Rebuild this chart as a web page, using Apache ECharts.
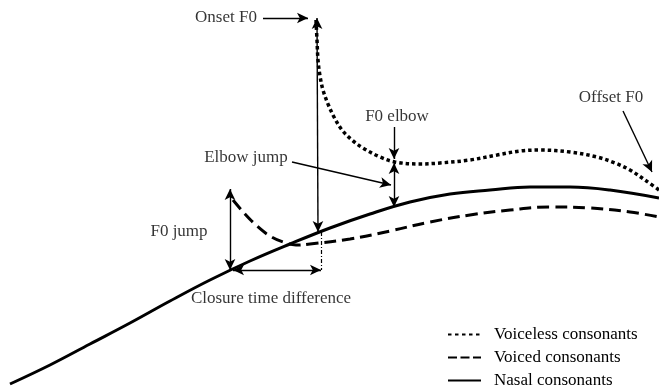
<!DOCTYPE html>
<html>
<head>
<meta charset="utf-8">
<script src="https://cdn.jsdelivr.net/npm/echarts@6/dist/echarts.min.js"></script>
<style>html,body{margin:0;padding:0;background:#fff}#c{width:659px;height:386px}</style>
</head>
<body>
<div id="c"></div>
<script>
// ---- Data (time units along x, F0 units along y) ----
const seriesNames = ['Voiceless consonants', 'Voiced consonants', 'Nasal consonants'];

const timeVoiceless = [316, 317, 318, 320, 323, 328, 334, 342, 352, 363, 380, 395, 420, 440, 470, 497, 520, 540, 570, 597, 615, 630, 645, 659];
const f0Voiceless   = [366, 346, 326, 310, 296, 282, 269, 256, 246, 238, 229, 224, 222, 223, 226, 231, 235, 236, 234, 229, 223, 216, 206, 196];

const timeVoiced = [233, 245, 257, 270, 283, 296, 310, 350, 390, 430, 470, 510, 550, 590, 630, 659];
const f0Voiced   = [186, 172, 160, 150, 144, 141, 142, 147, 155, 164, 171, 176, 179, 178, 174, 169];

const timeNasal = [10, 50, 90, 130, 170, 210, 250, 290, 330, 370, 410, 450, 490, 530, 570, 610, 659];
const f0Nasal   = [2, 21, 42, 63, 85, 106, 125, 142, 158, 172, 184, 192, 196, 199, 199, 196, 188];

// annotation arrows: start, end, head at start?, head at end?
const arrowFrom = [[263, 368], [318, 154], [233, 116], [230, 116], [292, 224], [394, 223], [394, 259], [623, 275]];
const arrowTo   = [[308, 368], [317, 368], [321, 116], [230, 197], [391, 201], [394, 179], [394, 227], [652, 214]];
const headStart = [false, true, true, true, false, true, false, false];
const headEnd   = [true, true, true, true, true, true, true, true];
// guide line (dash-dot) from onset down to closure
const guideFrom = [321, 154];
const guideTo   = [321, 116];

// annotation texts
const noteTexts = ['Onset F0', 'F0 elbow', 'Elbow jump', 'Offset F0', 'F0 jump', 'Closure time difference'];
const noteTime  = [226, 397, 246, 611, 179, 271];
const noteF0    = [368, 269, 228, 288, 154, 87];

// ---- Chart ----
const FONT = "'Liberation Serif', 'Times New Roman', serif";
const pairs = (xs, ys) => xs.map((x, i) => [x, ys[i]]);

const arrowData = arrowFrom.map((a, i) => [
  { coord: a, symbol: headStart[i] ? 'arrow' : 'none' },
  { coord: arrowTo[i], symbol: headEnd[i] ? 'arrow' : 'none' }
]);

const chart = echarts.init(document.getElementById('c'), null, { renderer: 'canvas' });
chart.setOption({
  animation: false,
  backgroundColor: '#fff',
  grid: { left: 0, right: 0, top: 0, bottom: 0 },
  xAxis: { type: 'value', min: 0, max: 659, show: false },
  yAxis: { type: 'value', min: 0, max: 386, show: false },
  legend: {
    orient: 'vertical',
    left: 447,
    top: 326,
    height: 120,
    padding: 0,
    itemWidth: 33,
    itemHeight: 12,
    itemGap: 6,
    selectedMode: false,
    itemStyle: { opacity: 0 },
    data: [
      { name: seriesNames[0], lineStyle: { type: [3.5, 3.5] } },
      { name: seriesNames[1], lineStyle: { type: [9, 3.5] } },
      { name: seriesNames[2] }
    ],
    textStyle: { fontFamily: FONT, fontSize: 17, color: '#000', padding: [0, 0, 0, 8] }
  },
  series: [
    {
      name: seriesNames[0], type: 'line', data: pairs(timeVoiceless, f0Voiceless),
      smooth: 0.35, symbol: 'none', clip: false,
      lineStyle: { color: '#000', width: 3.5, type: [3.5, 3] },
      itemStyle: { color: '#000' }
    },
    {
      name: seriesNames[1], type: 'line', data: pairs(timeVoiced, f0Voiced),
      smooth: 0.4, symbol: 'none', clip: false,
      lineStyle: { color: '#000', width: 3, type: [12, 6] },
      itemStyle: { color: '#000' }
    },
    {
      name: seriesNames[2], type: 'line', data: pairs(timeNasal, f0Nasal),
      smooth: 0.4, symbol: 'none', clip: false,
      lineStyle: { color: '#000', width: 3, type: 'solid' },
      itemStyle: { color: '#000' }
    },
    {
      name: 'arrows', type: 'line', data: [], silent: true,
      markLine: {
        silent: true,
        symbolSize: [8, 11],
        label: { show: false },
        lineStyle: { color: '#000', width: 1.4, type: 'solid' },
        emphasis: { disabled: true },
        data: arrowData
      }
    },
    {
      name: 'guide', type: 'line', data: [], silent: true,
      markLine: {
        silent: true,
        symbol: ['none', 'none'],
        label: { show: false },
        lineStyle: { color: '#000', width: 1.2, type: [4, 2, 1, 2] },
        emphasis: { disabled: true },
        data: [[{ coord: guideFrom }, { coord: guideTo }]]
      }
    },
    {
      name: 'notes', type: 'scatter', silent: true,
      symbol: 'circle', symbolSize: 1,
      itemStyle: { color: 'rgba(0,0,0,0)' },
      data: noteTexts.map((t, i) => ({ name: t, value: [noteTime[i], noteF0[i]] })),
      label: {
        show: true, position: 'inside', formatter: p => p.name,
        fontFamily: FONT, fontSize: 17, color: '#000'
      }
    }
  ]
});
</script>
</body>
</html>
